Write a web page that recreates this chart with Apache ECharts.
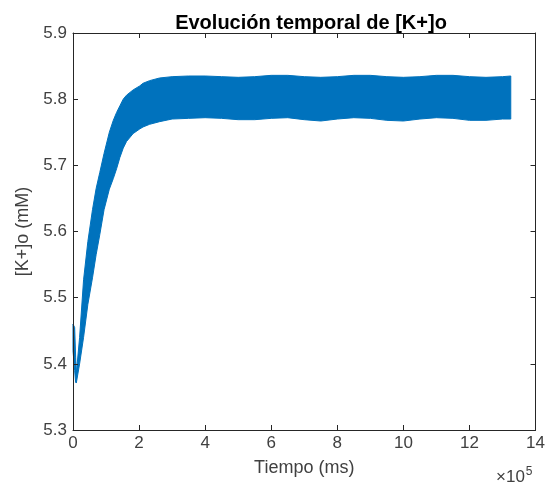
<!DOCTYPE html>
<html>
<head>
<meta charset="utf-8">
<script src="https://cdn.jsdelivr.net/npm/echarts@6/dist/echarts.min.js"></script>
<style>html,body{margin:0;padding:0;background:#fff}#c{width:548px;height:488px}</style>
</head>
<body>
<div id="c"></div>
<script>
// Time in units of 1e5 ms (axis shows x10^5)
const timeE5 = [0, 0.05, 0.08, 0.1, 0.2, 0.32, 0.45, 0.59, 0.7, 0.81, 0.94, 1.1, 1.22, 1.32, 1.42, 1.52, 1.62, 1.82, 2.02, 2.12, 2.32, 2.62, 3.0, 3.5, 4.0, 4.5, 5.0, 5.5, 6.0, 6.5, 7.0, 7.5, 8.0, 8.5, 9.0, 9.5, 10.0, 10.5, 11.0, 11.5, 12.0, 12.5, 13.0, 13.25];
// Upper envelope of the oscillating [K+]o trace (mM)
const upperK = [5.46, 5.455, 5.41, 5.385, 5.44, 5.527, 5.585, 5.633, 5.665, 5.689, 5.718, 5.750, 5.768, 5.780, 5.790, 5.800, 5.806, 5.814, 5.820, 5.824, 5.828, 5.832, 5.834, 5.835, 5.835, 5.834, 5.833, 5.834, 5.836, 5.836, 5.834, 5.833, 5.834, 5.836, 5.836, 5.834, 5.833, 5.834, 5.836, 5.836, 5.834, 5.833, 5.834, 5.835];
// Lower envelope
const lowerK = [5.42, 5.39, 5.372, 5.371, 5.40, 5.44, 5.49, 5.53, 5.565, 5.595, 5.633, 5.664, 5.680, 5.695, 5.712, 5.726, 5.736, 5.748, 5.755, 5.758, 5.762, 5.766, 5.770, 5.771, 5.772, 5.771, 5.769, 5.769, 5.771, 5.772, 5.769, 5.767, 5.770, 5.772, 5.771, 5.768, 5.767, 5.770, 5.772, 5.771, 5.768, 5.768, 5.770, 5.770];
const xTicksE5 = [0, 2, 4, 6, 8, 10, 12, 14];
const yTicks = [5.3, 5.4, 5.5, 5.6, 5.7, 5.8, 5.9];

const FONT = "'Liberation Sans', Arial, Helvetica, sans-serif";
const BLUE = '#0072BD';
const AX = '#262626';
const LAB = '#404040';

const bandData = timeE5.map((t, i) => [t * 1e5, lowerK[i], upperK[i]]);

const chart = echarts.init(document.getElementById('c'), null, {renderer: 'canvas'});
const common = {
  axisTick: {inside: true, length: 5, lineStyle: {color: AX}},
  axisLine: {show: true, onZero: false, lineStyle: {color: AX, width: 1}},
  splitLine: {show: false},
  z: 5
};
chart.setOption({
  animation: false,
  backgroundColor: '#fff',
  title: {
    text: 'Evolución temporal de [K+]o',
    left: 306, textAlign: 'center', top: 8,
    textStyle: {fontFamily: FONT, fontSize: 20, fontWeight: 'bold', color: '#000'}
  },
  grid: {left: 73, right: 11, top: 33, bottom: 58, containLabel: false},
  xAxis: [
    Object.assign({
      type: 'value', min: xTicksE5[0] * 1e5, max: xTicksE5[xTicksE5.length - 1] * 1e5, interval: 2e5,
      position: 'bottom',
      name: 'Tiempo (ms)', nameLocation: 'middle', nameGap: 29,
      nameTextStyle: {fontFamily: FONT, fontSize: 18, color: LAB},
      axisLabel: {margin: 5, fontFamily: FONT, fontSize: 17, color: LAB,
        formatter: v => String(Math.round(v / 1e5))}
    }, common),
    Object.assign({
      type: 'value', min: 0, max: 14e5, interval: 2e5, position: 'top',
      axisLabel: {show: false}
    }, common)
  ],
  yAxis: [
    Object.assign({
      type: 'value', min: yTicks[0], max: yTicks[yTicks.length - 1], interval: 0.1,
      position: 'left',
      name: '[K+]o (mM)', nameLocation: 'middle', nameGap: 40,
      nameTextStyle: {fontFamily: FONT, fontSize: 18, color: LAB},
      axisLabel: {margin: 6, fontFamily: FONT, fontSize: 17, color: LAB,
        formatter: v => v.toFixed(1)}
    }, common),
    Object.assign({
      type: 'value', min: 5.3, max: 5.9, interval: 0.1, position: 'right',
      axisLabel: {show: false}
    }, common)
  ],
  graphic: [{
    type: 'text', left: 496, top: 466,
    style: {
      text: '×10{s|5}', fontFamily: FONT, fontSize: 17, fill: LAB,
      rich: {s: {fontSize: 12, verticalAlign: 'top', padding: [0, 0, 10, 1], fontFamily: FONT, fill: LAB}}
    }
  }],
  series: [{
    type: 'custom',
    xAxisIndex: 0, yAxisIndex: 0,
    data: bandData,
    encode: {x: 0, y: [1, 2]},
    silent: true,
    renderItem: function (params, api) {
      if (params.dataIndex !== 0) return null;
      const top = [], bot = [];
      for (let i = 0; i < timeE5.length; i++) {
        top.push(api.coord([timeE5[i] * 1e5, upperK[i]]));
        bot.push(api.coord([timeE5[i] * 1e5, lowerK[i]]));
      }
      const pts = top.concat(bot.reverse());
      return {
        type: 'polygon',
        shape: {points: pts},
        style: {fill: BLUE, stroke: BLUE, lineWidth: 1}
      };
    }
  }]
});
</script>
</body>
</html>
